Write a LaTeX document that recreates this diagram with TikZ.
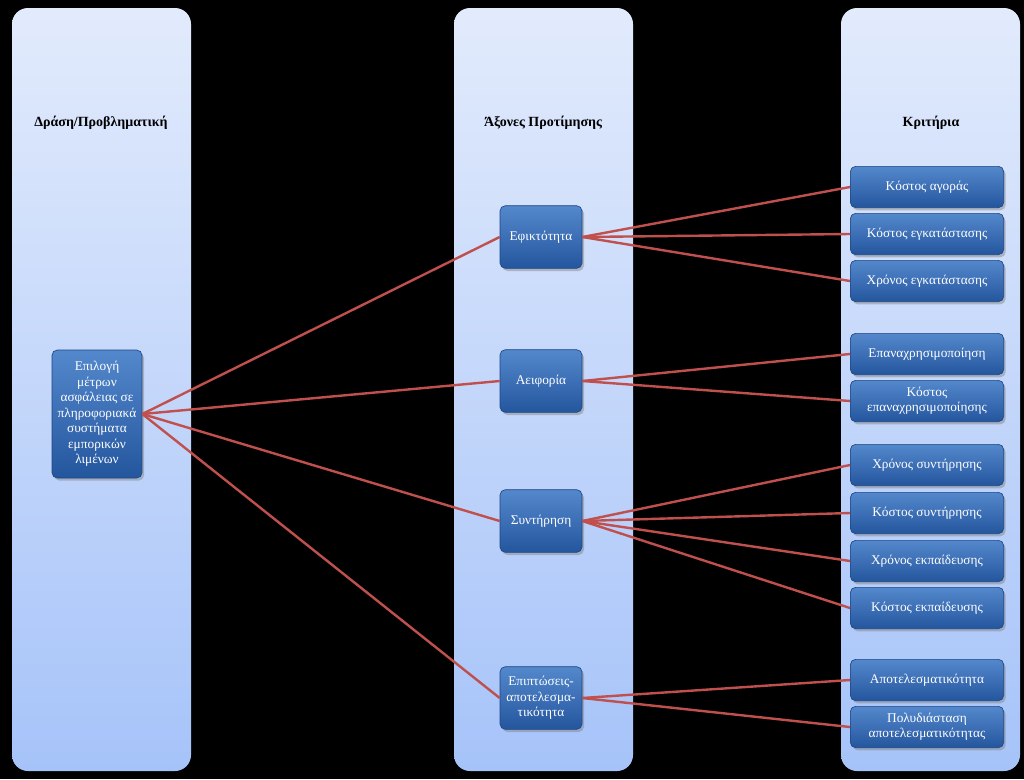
\documentclass[tikz,border=0pt]{standalone}
\usepackage{fontspec}
\setmainfont{Liberation Serif}
\usepackage{xcolor}
\definecolor{panelTop}{RGB}{226,235,252}
\definecolor{panelBot}{RGB}{166,195,249}
\definecolor{boxTop}{RGB}{84,136,204}
\definecolor{boxBot}{RGB}{36,86,158}
\definecolor{boxLine}{RGB}{30,70,130}
\definecolor{linkRed}{RGB}{192,80,77}
\usepackage{tikz}
\usetikzlibrary{positioning, shadows}
\tikzstyle{panel} = [
    top color=panelTop, bottom color=panelBot, rounded corners=12pt,
]
\tikzstyle{title} = [
    font=\fontsize{10.5pt}{12pt}\selectfont\bfseries, text=black,
]
\tikzstyle{box} = [
    draw=boxLine, line width=0.5pt, top color=boxTop, bottom color=boxBot,
    rounded corners=4pt, text=white, align=center, inner sep=2pt,
    font=\fontsize{10pt}{11.5pt}\selectfont,
    drop shadow={opacity=0.45, shadow xshift=1.5pt, shadow yshift=-2pt},
]
\tikzstyle{axis} = [box, minimum width=61.5pt, minimum height=47pt]
\tikzstyle{crit} = [box, minimum width=115pt, minimum height=31pt]
\tikzstyle{link} = [draw=linkRed, line width=1.8pt]

\begin{document}
\begin{tikzpicture}[x=0.75pt, y=-0.75pt]
    \fill[black] (0,0) rectangle (1024,779);
    \useasboundingbox (0,0) rectangle (1024,779);
    % three columns
    \shade[panel] (12,8) rectangle (191,771);
    \shade[panel] (454,8) rectangle (633,771);
    \shade[panel] (841,8) rectangle (1020,771);

    \node[title] (t1) at (101,123) {Δράση/Προβληματική};
    \node[title] (t2) at (543,123) {Άξονες Προτίμησης};
    \node[title] (t3) at (931,123) {Κριτήρια};

    % problem
    \node[box, minimum width=67.5pt, minimum height=96pt,
          font=\fontsize{10pt}{11.6pt}\selectfont] (main) at (97,414)
        {Επιλογή\\μέτρων\\ασφάλειας σε\\πληροφοριακά\\συστήματα\\εμπορικών\\λιμένων};

    % axes
    \node[axis] (ax1) at (541,237) {Εφικτότητα};
    \node[axis] (ax2) at (541,381) {Αειφορία};
    \node[axis] (ax3) at (541,521) {Συντήρηση};
    \node[axis] (ax4) at (541,698) {Επιπτώσεις-\\αποτελεσμα-\\τικότητα};

    % criteria
    \node[crit] (c1) at (927,187) {Κόστος αγοράς};
    \node[crit] (c2) at (927,234) {Κόστος εγκατάστασης};
    \node[crit] (c3) at (927,281) {Χρόνος εγκατάστασης};

    \node[crit] (c4) at (927,354) {Επαναχρησιμοποίηση};
    \node[crit] (c5) at (927,401) {Κόστος\\επαναχρησιμοποίησης};

    \node[crit] (c6) at (927,465) {Χρόνος συντήρησης};
    \node[crit] (c7) at (927,513) {Κόστος συντήρησης};
    \node[crit] (c8) at (927,561) {Χρόνος εκπαίδευσης};
    \node[crit] (c9) at (927,608) {Κόστος εκπαίδευσης};

    \node[crit] (c10) at (927,680) {Αποτελεσματικότητα};
    \node[crit] (c11) at (927,727) {Πολυδιάσταση\\αποτελεσματικότητας};

    % links
    \foreach \a in {ax1,ax2,ax3,ax4}
        \draw[link] (main.east) -- (\a.west);
    \foreach \c in {c1,c2,c3}
        \draw[link] (ax1.east) -- (\c.west);
    \foreach \c in {c4,c5}
        \draw[link] (ax2.east) -- (\c.west);
    \foreach \c in {c6,c7,c8,c9}
        \draw[link] (ax3.east) -- (\c.west);
    \foreach \c in {c10,c11}
        \draw[link] (ax4.east) -- (\c.west);

\end{tikzpicture}
\end{document}
